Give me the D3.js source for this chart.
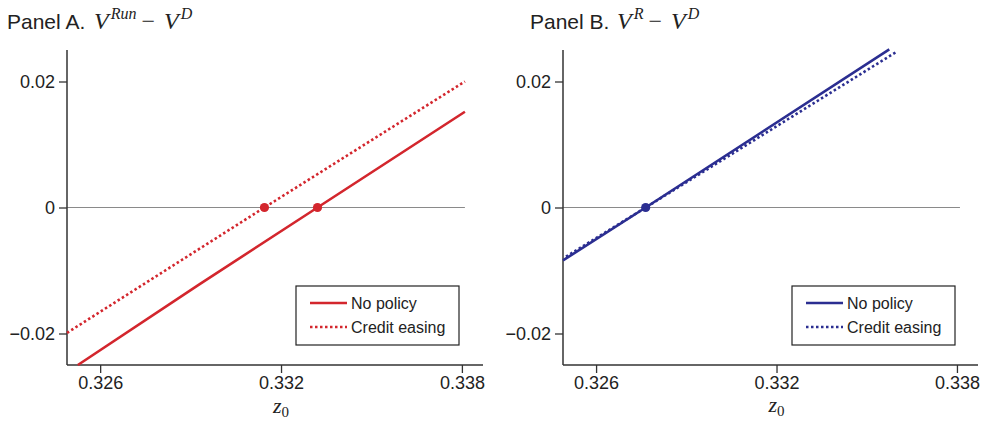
<!DOCTYPE html>
<html><head><meta charset="utf-8">
<script src="https://cdn.jsdelivr.net/npm/d3@7"></script>
<style>
body{margin:0;background:#fff;}
svg{display:block;}
.sans{font-family:"Liberation Sans",Arial,Helvetica,sans-serif;fill:#222;}
.serif{font-family:"Liberation Serif","Times New Roman",serif;font-style:italic;fill:#222;}
</style></head>
<body>
<svg id="c" width="983" height="424"></svg>
<script>
// ---- data ----
const xTicks = [0.326, 0.332, 0.338];
const yTicks = [-0.02, 0, 0.02];
const xDomain = [0.3249, 0.3387];
const yDomain = [-0.025, 0.025];
const zeroLineEnd = 0.3381;
const seriesNames = ["No policy", "Credit easing"];

const aNoPolicyX = [0.32526, 0.32929, 0.33321, 0.3381];
const aNoPolicyY = [-0.025, -0.0122, 0.0, 0.0152];
const aEasingX = [0.3249, 0.33145, 0.3381];
const aEasingY = [-0.0199, 0.0, 0.0200];
const aDotsX = [0.33145, 0.33321];

const bNoPolicyX = [0.3249, 0.32765, 0.33575];
const bNoPolicyY = [-0.0084, 0.0, 0.0251];
const bEasingX = [0.3250, 0.32765, 0.33602];
const bEasingY = [-0.0078, 0.0, 0.0248];
const bDotsX = [0.32765];

// ---- drawing ----
const svg = d3.select("#c");
const plotTop = 50, plotBottom = 365;

function panel(opts){
  const g = svg.append("g");
  const x = d3.scaleLinear().domain(xDomain).range([opts.left, opts.right]);
  const y = d3.scaleLinear().domain(yDomain).range([plotBottom, plotTop]);
  const color = opts.color;

  // title
  g.append("text").attr("class","sans").attr("x", opts.titleX).attr("y", 29)
    .attr("font-size", 21).text(opts.panelLabel);
  const m = g.append("text").attr("class","serif").attr("x", opts.mathX).attr("y", 29).attr("font-size", 24);
  m.append("tspan").text("V");
  m.append("tspan").attr("font-size",16).attr("dx",2).attr("dy",-10).text(opts.sup);
  m.append("tspan").attr("font-style","normal").attr("dx",5).attr("dy",10).text("\u2212");
  m.append("tspan").attr("dx",9).text("V");
  m.append("tspan").attr("font-size",16).attr("dx",2).attr("dy",-10).text("D");

  // zero line
  g.append("line").attr("x1", x(xDomain[0])).attr("x2", x(zeroLineEnd))
    .attr("y1", y(0)).attr("y2", y(0)).attr("stroke","#8a8a8a").attr("stroke-width",1.2);

  // axes
  const yAxis = d3.axisLeft(y).tickValues(yTicks).tickSize(8).tickPadding(4)
    .tickFormat(d => d === 0 ? "0" : (d < 0 ? "\u2212" : "") + Math.abs(d).toFixed(2));
  const ya = g.append("g").attr("transform",`translate(${opts.left},0)`).call(yAxis);
  const xAxis = d3.axisBottom(x).tickValues(xTicks).tickSize(8).tickPadding(3)
    .tickFormat(d3.format(".3f"));
  const xa = g.append("g").attr("transform",`translate(0,${plotBottom})`).call(xAxis);
  [ya, xa].forEach(a => {
    a.select(".domain").attr("stroke","#333").attr("stroke-width",1.5);
    a.selectAll(".tick line").attr("stroke","#333").attr("stroke-width",1.3);
    a.selectAll(".tick text").attr("class","sans").attr("font-size",18).attr("fill","#222");
  });
  ya.select(".domain").attr("d", `M0,${plotTop}V${plotBottom}`);
  xa.select(".domain").attr("d", `M${opts.left},0H${opts.right}`);

  // x label
  const xl = g.append("text").attr("class","serif").attr("x", x(0.332)).attr("y", opts.xlabY)
    .attr("text-anchor","middle").attr("font-size",22);
  xl.append("tspan").text("z");
  xl.append("tspan").attr("font-style","normal").attr("font-size",15).attr("dy",4).text("0");

  const line = d3.line().x(d => x(d[0])).y(d => y(d[1]));
  g.append("path").datum(d3.zip(opts.noX, opts.noY)).attr("d", line)
    .attr("fill","none").attr("stroke",color).attr("stroke-width",2.6);
  g.append("path").datum(d3.zip(opts.ceX, opts.ceY)).attr("d", line)
    .attr("fill","none").attr("stroke",color).attr("stroke-width",2.6).attr("stroke-dasharray","2.5,2.5");

  g.selectAll("circle.dot").data(opts.dots).enter().append("circle")
    .attr("cx", d => x(d)).attr("cy", y(0)).attr("r", 4.6).attr("fill", color);

  // legend
  const lg = g.append("g").attr("transform",`translate(${opts.legX},286)`);
  lg.append("rect").attr("x",0).attr("y",0).attr("width",163).attr("height",59)
    .attr("fill","#fff").attr("stroke","#222").attr("stroke-width",1.2);
  seriesNames.forEach((n,i) => {
    const yy = 17 + i*24;
    lg.append("line").attr("x1",14).attr("x2",51).attr("y1",yy).attr("y2",yy)
      .attr("stroke",color).attr("stroke-width",2.6).attr("stroke-dasharray", i ? "2.5,2.5" : null);
    lg.append("text").attr("class","sans").attr("x",55).attr("y",yy+5.5).attr("font-size",16).text(n);
  });
}

panel({left:67, right:483, titleX:7, mathX:94, panelLabel:"Panel A.", sup:"Run", color:"#d3262d",
  noX:aNoPolicyX, noY:aNoPolicyY, ceX:aEasingX, ceY:aEasingY, dots:aDotsX, legX:296, xlabY:413});
panel({left:563, right:978, titleX:530, mathX:617, panelLabel:"Panel B.", sup:"R", color:"#2b2e91",
  noX:bNoPolicyX, noY:bNoPolicyY, ceX:bEasingX, ceY:bEasingY, dots:bDotsX, legX:792, xlabY:412});
</script>
</body></html>
